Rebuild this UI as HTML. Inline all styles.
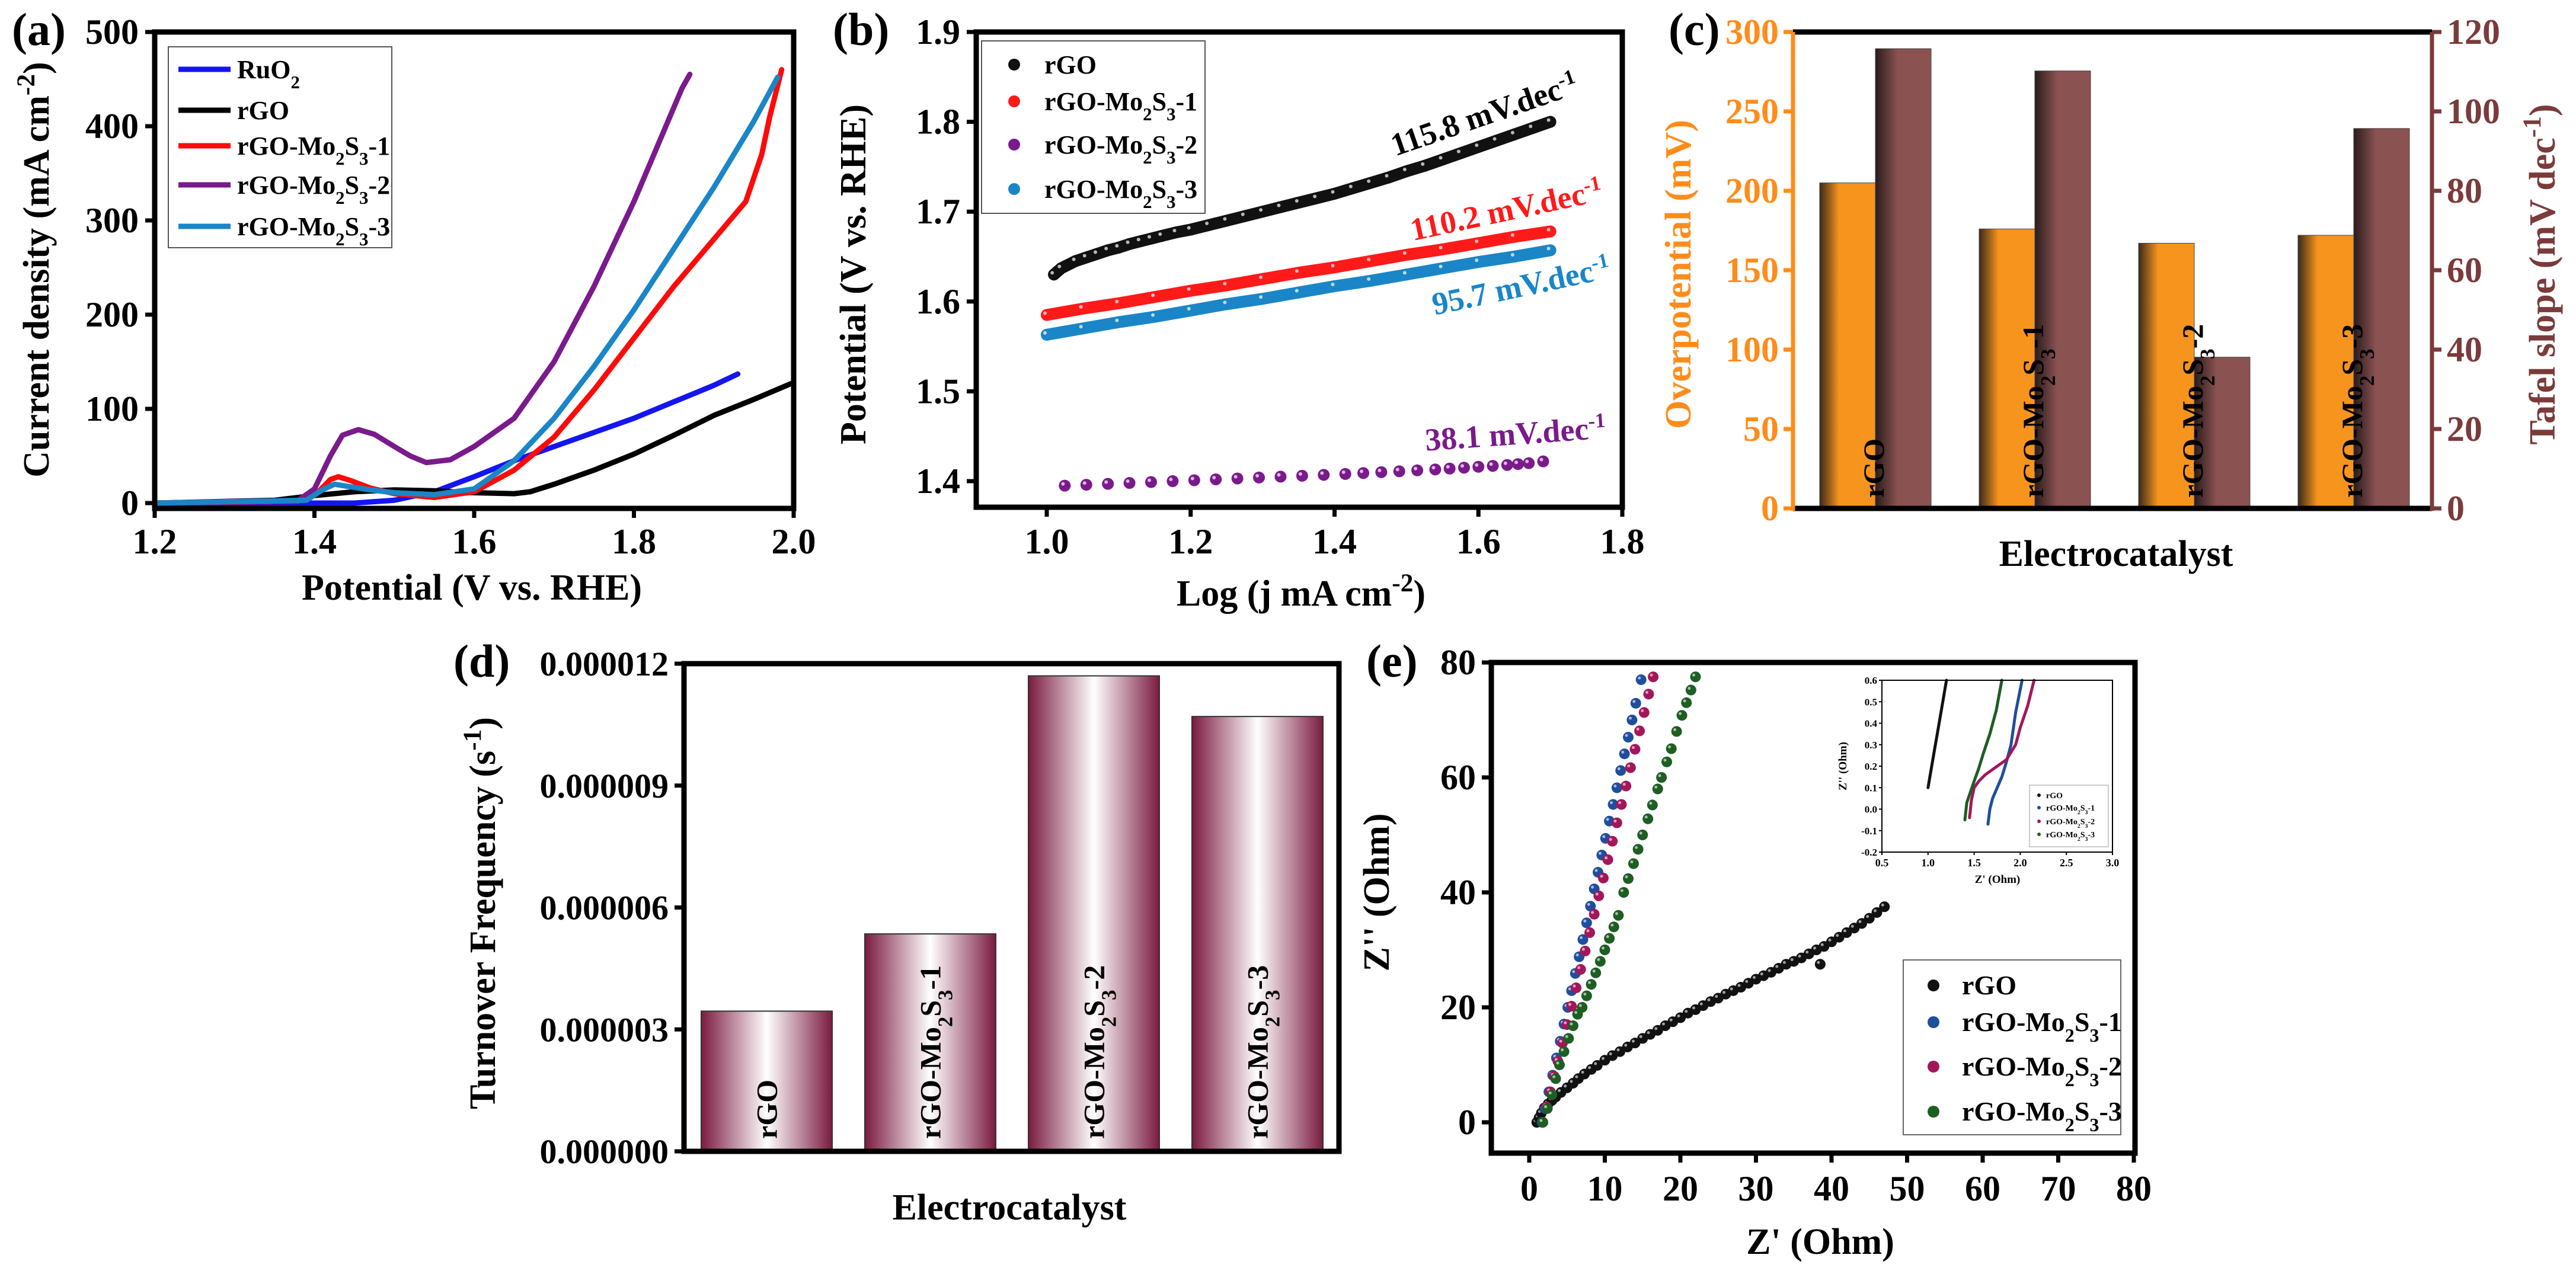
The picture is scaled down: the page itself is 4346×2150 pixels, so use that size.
<!DOCTYPE html>
<html><head><meta charset="utf-8"><style>
html,body{margin:0;padding:0;background:#fff;}
svg{display:block;font-family:"Liberation Serif",serif;font-weight:bold;}
</style></head><body>
<svg id="fig" xmlns="http://www.w3.org/2000/svg" width="4346" height="2150" viewBox="0 0 4346 2150">
<defs>
<linearGradient id="gOr" x1="0" x2="1" y1="0" y2="0"><stop offset="0" stop-color="#3a2a1c"/><stop offset="0.35" stop-color="#f7941d"/><stop offset="1" stop-color="#f7941d"/></linearGradient>
<linearGradient id="gBr" x1="0" x2="1" y1="0" y2="0"><stop offset="0" stop-color="#2a1c1c"/><stop offset="0.4" stop-color="#8b5252"/><stop offset="1" stop-color="#8b5252"/></linearGradient>
<linearGradient id="gTof" x1="0" x2="1" y1="0" y2="0"><stop offset="0" stop-color="#7a1b40"/><stop offset="0.5" stop-color="#ffffff"/><stop offset="1" stop-color="#7a1b40"/></linearGradient>
</defs>
</svg>
<script>
// ---------- Panel (a) data ----------
const aRuX=[1.2,1.45,1.5,1.55,1.6,1.65,1.7,1.8,1.9,1.93];
const aRuY=[0,0,3,12,28,45,60,90,125,137];
const aRgoX=[1.2,1.35,1.4,1.45,1.5,1.55,1.6,1.65,1.67,1.7,1.75,1.8,1.85,1.9,1.95,2.0];
const aRgoY=[0,3,8,12,14,13,11,10,12,20,35,52,72,93,110,128];
const aM1X=[1.2,1.38,1.405,1.42,1.43,1.445,1.47,1.5,1.55,1.6,1.65,1.7,1.75,1.8,1.85,1.9,1.94,1.96,1.97,1.985];
const aM1Y=[0,2,12,25,28,24,16,10,6,12,35,70,120,175,230,280,320,370,410,460];
const aM2X=[1.2,1.38,1.4,1.42,1.435,1.455,1.475,1.5,1.52,1.54,1.57,1.6,1.65,1.7,1.75,1.8,1.84,1.86,1.87];
const aM2Y=[0,3,15,50,72,78,73,60,50,43,46,60,90,150,230,320,400,440,455];
const aM3X=[1.2,1.39,1.41,1.425,1.44,1.47,1.5,1.55,1.6,1.65,1.7,1.75,1.8,1.85,1.9,1.95,1.98];
const aM3Y=[0,3,14,20,18,14,11,9,15,45,90,145,205,270,335,405,452];
const aXTicks=["1.2","1.4","1.6","1.8","2.0"];
const aYTicks=["0","100","200","300","400","500"];
// ---------- Panel (b) data ----------
const bRgoX=[1.01,1.02,1.04,1.055,1.07,1.085,1.1,1.115,1.13,1.145,1.16,1.18,1.2,1.225,1.25,1.275,1.3,1.325,1.35,1.375,1.4,1.425,1.45,1.475,1.5,1.525,1.55,1.575,1.6,1.625,1.65,1.675,1.7];
const bRgoY=[1.630,1.637,1.645,1.649,1.653,1.657,1.660,1.664,1.667,1.670,1.673,1.677,1.680,1.685,1.690,1.695,1.700,1.705,1.710,1.715,1.720,1.726,1.732,1.738,1.745,1.751,1.758,1.765,1.772,1.779,1.786,1.793,1.800];
const bM1X=[1.0,1.05,1.1,1.15,1.2,1.25,1.3,1.35,1.4,1.45,1.5,1.55,1.6,1.65,1.7];
const bM1Y=[1.585,1.592,1.598,1.605,1.612,1.618,1.625,1.632,1.638,1.645,1.652,1.658,1.665,1.672,1.678];
const bM3X=[1.0,1.05,1.1,1.15,1.2,1.25,1.3,1.35,1.4,1.45,1.5,1.55,1.6,1.65,1.7];
const bM3Y=[1.563,1.570,1.577,1.583,1.590,1.597,1.603,1.610,1.617,1.623,1.630,1.637,1.644,1.650,1.657];
const bM2X=[1.025,1.055,1.085,1.115,1.145,1.175,1.205,1.235,1.265,1.295,1.325,1.355,1.385,1.415,1.44,1.465,1.49,1.515,1.54,1.56,1.58,1.6,1.62,1.64,1.655,1.67,1.69];
const bM2Y=[1.395,1.396,1.397,1.398,1.399,1.400,1.401,1.402,1.403,1.404,1.405,1.406,1.407,1.408,1.409,1.410,1.411,1.412,1.413,1.414,1.415,1.416,1.417,1.418,1.419,1.420,1.422];
const bXTicks=["1.0","1.2","1.4","1.6","1.8"];
const bYTicks=["1.4","1.5","1.6","1.7","1.8","1.9"];
// ---------- Panel (c) data ----------
const cCats=["rGO","rGO-Mo2S3-1","rGO-Mo2S3-2","rGO-Mo2S3-3"];
const cOver=[205,176,167,172];
const cTafel=[115.8,110.2,38.1,95.7];
const cLTicks=["0","50","100","150","200","250","300"];
const cRTicks=["0","20","40","60","80","100","120"];
// ---------- Panel (d) data ----------
const dTof=[3.45e-6,5.35e-6,11.7e-6,10.7e-6];
const dTicks=["0.000000","0.000003","0.000006","0.000009","0.000012"];
// ---------- Panel (e) data ----------
const eRgoX=[1.0,1.3,1.6,2.0,2.5,3.0,3.5,4.2,5.0,5.8,6.5,7.3,8.2,9.0,10.0,11.0,12.0,13.0,14.0,15.0,16.0,17.0,18.0,19.0,20.0,21.0,22.0,23.0,24.0,25.0,26.0,27.0,28.0,29.0,30.0,31.0,32.0,33.0,34.0,35.0,36.0,37.0,38.0,38.5,39.0,40.0,41.0,42.0,43.0,44.0,45.0,46.0,47.0];
const eRgoY=[0,0.8,1.6,2.5,3.2,3.8,4.4,5.2,6.0,6.8,7.6,8.4,9.2,9.9,10.8,11.6,12.3,13.1,13.8,14.6,15.3,16.0,16.8,17.5,18.2,19.0,19.6,20.3,21.0,21.6,22.3,22.9,23.5,24.2,24.9,25.5,26.1,26.8,27.5,28.0,28.6,29.3,30.0,27.5,30.6,31.4,32.2,33.0,33.8,34.6,35.5,36.5,37.5];
const eM1X=[1.7,2.1,2.6,3.1,3.6,4.1,4.6,5.1,5.6,6.1,6.6,7.1,7.6,8.1,8.6,9.1,9.6,10.1,10.6,11.1,11.6,12.1,12.6,13.1,13.6,14.1,14.8];
const eM1Y=[0,2.4,5.3,8.2,11.2,14.1,17.1,20,22.9,25.9,28.8,31.8,34.7,37.6,40.6,43.5,46.5,49.4,52.4,55.3,58.2,61.2,64.1,67,70,72.9,77];
const eM2X=[1.8,2.3,2.8,3.3,3.8,4.4,5.0,5.6,6.2,6.8,7.4,8.0,8.6,9.2,9.8,10.4,11.0,11.6,12.2,12.8,13.4,14.0,14.6,15.2,15.8,16.4];
const eM2Y=[0,2.7,5.3,8,10.6,13.8,17,20.2,23.4,26.6,29.8,33,36.2,39.4,42.5,45.7,48.9,52.1,55.3,58.5,61.7,64.9,68.1,71.3,74.5,77.5];
const eM3X=[1.8,2.4,3.0,3.5,4.0,4.6,5.2,5.8,6.4,7.0,7.6,8.2,8.8,9.4,10.0,10.6,11.2,11.8,12.5,13.1,13.8,14.4,15.0,15.7,16.3,17.0,17.5,18.2,18.8,19.5,20.2,20.8,21.4,22.0];
const eM3Y=[0,2.4,4.8,7.6,10,12.3,14.6,16.8,18.8,20,22,24,26,28,30,32,34,36,40,42.4,45,47.5,50,52.8,55.2,58,60,62.7,65,68,70.8,73,75.2,77.5];
const eXTicks=["0","10","20","30","40","50","60","70","80"];
const eYTicks=["0","20","40","60","80"];
const iRgoX=[1.0,1.02,1.04,1.06,1.08,1.1,1.12,1.14,1.16,1.18,1.2];
const iRgoY=[0.1,0.15,0.2,0.25,0.3,0.35,0.4,0.45,0.5,0.55,0.6];
const iM1X=[1.65,1.67,1.7,1.75,1.8,1.85,1.9,1.95,2.02];
const iM1Y=[-0.07,0.0,0.05,0.1,0.15,0.22,0.3,0.45,0.6];
const iM2X=[1.45,1.47,1.5,1.55,1.62,1.75,1.85,1.95,2.0,2.08,2.15];
const iM2Y=[-0.04,0.04,0.1,0.13,0.16,0.2,0.23,0.3,0.38,0.48,0.6];
const iM3X=[1.4,1.42,1.46,1.5,1.55,1.6,1.67,1.74,1.8];
const iM3Y=[-0.05,0.03,0.08,0.13,0.19,0.26,0.35,0.46,0.6];
const iXTicks=["0.5","1.0","1.5","2.0","2.5","3.0"];
const iYTicks=["-0.2","-0.1","0.0","0.1","0.2","0.3","0.4","0.5","0.6"];

const NS="http://www.w3.org/2000/svg";
const svg=document.getElementById('fig');
function mk(tag,attrs,parent){const e=document.createElementNS(NS,tag);for(const k in attrs)e.setAttribute(k,attrs[k]);(parent||svg).appendChild(e);return e;}
function lin(d0,d1,r0,r1){return v=>r0+(v-d0)*(r1-r0)/(d1-d0);}
function txt(s,x,y,size,opt,parent){opt=opt||{};const t=mk('text',{x:x,y:y,'font-size':size,'text-anchor':opt.anchor||'middle',fill:opt.fill||'#000'},parent);if(opt.rot!==undefined)t.setAttribute('transform','rotate('+opt.rot+' '+x+' '+y+')');t.innerHTML=s;return t;}
function chem(n){return n.replace('Mo2S3','Mo<tspan baseline-shift="sub" font-size="70%">2</tspan>S<tspan baseline-shift="sub" font-size="70%">3</tspan>');}
function path(xs,ys,X,Y){return xs.map((v,i)=>(i?'L':'M')+X(v).toFixed(1)+' '+Y(ys[i]).toFixed(1)).join(' ');}

// ================= Panel (a) =================
(function(){
const g=mk('g',{});


const X=lin(1.2,2.0,261,1339),Y=lin(0,500,849,54);
const series=[[aRuX,aRuY,'#1515f0','RuO2'],[aRgoX,aRgoY,'#000','rGO'],[aM1X,aM1Y,'#ff0a0a','rGO-Mo2S3-1'],[aM2X,aM2Y,'#7b1a8c','rGO-Mo2S3-2'],[aM3X,aM3Y,'#1a86c7','rGO-Mo2S3-3']];
series.forEach(s=>{const p=mk('path',{d:path(s[0],s[1],X,Y),fill:'none',stroke:s[2],'stroke-width':9,'stroke-linejoin':'round','stroke-linecap':'round'},g);

});
mk('rect',{x:261,y:54,width:1078,height:804,fill:'none',stroke:'#000','stroke-width':9},g);
aXTicks.forEach(t=>{const x=X(+t);mk('line',{x1:x,y1:858,x2:x,y2:874,stroke:'#000','stroke-width':7},g);txt(t,x,934,60,{},g);});
aYTicks.forEach(t=>{const y=Y(+t);mk('line',{x1:245,y1:y,x2:261,y2:y,stroke:'#000','stroke-width':7},g);txt(t,234,y+20,60,{anchor:'end'},g);});
const xl=txt('Potential (V vs. RHE)',796,1012,62,{},g);
const yl=txt('Current density (mA cm<tspan baseline-shift="super" font-size="70%">-2</tspan>)',82,455,62,{rot:-90},g);
txt('(a)',20,76,78,{anchor:'start'},g);
const lg=mk('g',{},g);
mk('rect',{x:284,y:79,width:377,height:339,fill:'#fff',stroke:'#555','stroke-width':2},lg);
const ly=[117,186,246,312,382];
series.forEach((s,i)=>{mk('line',{x1:301,y1:ly[i],x2:389,y2:ly[i],stroke:s[2],'stroke-width':9},lg);txt(chem(s[3]).replace('RuO2','RuO<tspan baseline-shift="sub" font-size="70%">2</tspan>'),400,ly[i]+15,44,{anchor:'start'},lg);});
})();

// ================= Panel (b) =================
(function(){
const g=mk('g',{});


const X=lin(1.0,1.8,1766,2737),Y=lin(1.4,1.9,812,54);
const series=[[bRgoX,bRgoY,'#111','rGO'],[bM1X,bM1Y,'#ff1a1a','rGO-Mo2S3-1'],[bM2X,bM2Y,'#7b1a8c','rGO-Mo2S3-2'],[bM3X,bM3Y,'#1a86c7','rGO-Mo2S3-3']];
series.forEach((s,si)=>{const sg=mk('g',{},g);


if(si!==2)mk('path',{d:path(s[0],s[1],X,Y),fill:'none',stroke:s[2],'stroke-width':20,'stroke-linecap':'round'},sg);
s[0].forEach((v,i)=>{mk('circle',{cx:X(v),cy:Y(s[1][i]),r:10,fill:s[2]},sg);mk('circle',{cx:X(v)-3,cy:Y(s[1][i])-3,r:3,fill:'#fff',opacity:0.7},sg);});});
mk('rect',{x:1647,y:54,width:1090,height:802,fill:'none',stroke:'#000','stroke-width':9},g);
bXTicks.forEach(t=>{const x=X(+t);mk('line',{x1:x,y1:856,x2:x,y2:872,stroke:'#000','stroke-width':7},g);txt(t,x,934,60,{},g);});
bYTicks.forEach(t=>{const y=Y(+t);mk('line',{x1:1631,y1:y,x2:1647,y2:y,stroke:'#000','stroke-width':7},g);txt(t,1620,y+20,60,{anchor:'end'},g);});
txt('Log (j mA cm<tspan baseline-shift="super" font-size="70%">-2</tspan>)',2195,1022,62,{},g);
txt('Potential (V vs. RHE)',1460,463,62,{rot:-90},g);
txt('(b)',1405,76,78,{anchor:'start'},g);
const sup='<tspan baseline-shift="super" font-size="65%">-1</tspan>';
txt('115.8 mV.dec'+sup,2510,210,54,{rot:-19},g);
txt('110.2 mV.dec'+sup,2545,372,54,{rot:-12,fill:'#ff1a1a'},g);
txt('95.7 mV.dec'+sup,2570,500,54,{rot:-12,fill:'#1a86c7'},g);
txt('38.1 mV.dec'+sup,2558,750,54,{rot:-4,fill:'#7b1a8c'},g);
const lg=mk('g',{},g);
mk('rect',{x:1656,y:69,width:377,height:291,fill:'#fff',stroke:'#555','stroke-width':2},lg);
const ly=[109,171,244,319];
series.forEach((s,i)=>{mk('circle',{cx:1711,cy:ly[i],r:10,fill:s[2]},lg);txt(chem(s[3]),1762,ly[i]+15,44,{anchor:'start'},lg);});
})();

// ================= Panel (c) =================
(function(){
const g=mk('g',{});


const YL=lin(0,300,858,54),YR=lin(0,120,858,54);
const gx0=3070,gStep=269,bw=94;
cCats.forEach((c,i)=>{const x=gx0+i*gStep;
const b1=mk('rect',{x:x,y:YL(cOver[i]),width:bw,height:858-YL(cOver[i]),fill:'url(#gOr)',stroke:'#444','stroke-width':1},g);


const b2=mk('rect',{x:x+bw,y:YR(cTafel[i]),width:bw,height:858-YR(cTafel[i]),fill:'url(#gBr)',stroke:'#444','stroke-width':1},g);


txt(chem(c),x+bw+14,840,50,{anchor:'start',rot:-90},g);});
mk('line',{x1:3025,y1:54,x2:4103,y2:54,stroke:'#000','stroke-width':9},g);
mk('line',{x1:3025,y1:858,x2:4103,y2:858,stroke:'#000','stroke-width':9},g);
mk('line',{x1:3025,y1:54,x2:3025,y2:862,stroke:'#ff8c1a','stroke-width':7},g);
mk('line',{x1:4103,y1:54,x2:4103,y2:862,stroke:'#7b3b3b','stroke-width':7},g);
cLTicks.forEach(t=>{const y=YL(+t);mk('line',{x1:3009,y1:y,x2:3025,y2:y,stroke:'#ff8c1a','stroke-width':7},g);txt(t,3001,y+20,60,{anchor:'end',fill:'#ff8c1a'},g);});
cRTicks.forEach(t=>{const y=YR(+t);mk('line',{x1:4103,y1:y,x2:4119,y2:y,stroke:'#7b3b3b','stroke-width':7},g);txt(t,4128,y+20,60,{anchor:'start',fill:'#7b3b3b'},g);});
txt('Electrocatalyst',3570,955,62,{},g);
txt('Overpotential (mV)',2852,463,62,{rot:-90,fill:'#ff8c1a'},g);
txt('Tafel slope (mV dec<tspan baseline-shift="super" font-size="70%">-1</tspan>)',4310,463,62,{rot:-90,fill:'#7b3b3b'},g);
txt('(c)',2815,76,78,{anchor:'start'},g);
})();

// ================= Panel (d) =================
(function(){
const g=mk('g',{});


const Y=lin(0,12e-6,1943,1120);
const x0=1183,step=276,bw=221;
dTof.forEach((v,i)=>{const x=x0+i*step;
const b=mk('rect',{x:x,y:Y(v),width:bw,height:1943-Y(v),fill:'url(#gTof)',stroke:'#333','stroke-width':2},g);


txt(chem(cCats[i]),x+bw/2+17,1922,50,{anchor:'start',rot:-90},g);});
mk('rect',{x:1154,y:1120,width:1105,height:823,fill:'none',stroke:'#000','stroke-width':9},g);
dTicks.forEach(t=>{const y=Y(+t);mk('line',{x1:1138,y1:y,x2:1154,y2:y,stroke:'#000','stroke-width':7},g);txt(t,1128,y+20,58,{anchor:'end'},g);});
txt('Electrocatalyst',1703,2058,62,{},g);
txt('Turnover Frequency (s<tspan baseline-shift="super" font-size="70%">-1</tspan>)',835,1541,62,{rot:-90},g);
txt('(d)',765,1142,78,{anchor:'start'},g);
})();

// ================= Panel (e) =================
(function(){
const g=mk('g',{});


const X=lin(0,80,2580,3600),Y=lin(0,80,1894,1118);
const series=[[eRgoX,eRgoY,'#111','rGO'],[eM1X,eM1Y,'#1f4e9c','rGO-Mo2S3-1'],[eM2X,eM2Y,'#a3175a','rGO-Mo2S3-2'],[eM3X,eM3Y,'#1d5e22','rGO-Mo2S3-3']];
series.forEach(s=>{const sg=mk('g',{},g);


s[0].forEach((v,i)=>{mk('circle',{cx:X(v),cy:Y(s[1][i]),r:9,fill:s[2]},sg);mk('circle',{cx:X(v)-3,cy:Y(s[1][i])-3,r:2.5,fill:'#fff',opacity:0.6},sg);});});
mk('rect',{x:2516,y:1118,width:1086,height:828,fill:'none',stroke:'#000','stroke-width':9},g);
eXTicks.forEach(t=>{const x=X(+t);mk('line',{x1:x,y1:1946,x2:x,y2:1962,stroke:'#000','stroke-width':7},g);txt(t,x,2026,60,{},g);});
eYTicks.forEach(t=>{const y=Y(+t);mk('line',{x1:2500,y1:y,x2:2516,y2:y,stroke:'#000','stroke-width':7},g);txt(t,2490,y+20,60,{anchor:'end'},g);});
txt("Z' (Ohm)",3071,2116,62,{},g);
txt("Z'' (Ohm)",2343,1506,62,{rot:-90},g);
txt('(e)',2305,1142,78,{anchor:'start'},g);
const lg=mk('g',{},g);
mk('rect',{x:3211,y:1620,width:367,height:295,fill:'#fff',stroke:'#666','stroke-width':2},lg);
const ly=[1663,1725,1800,1876];
series.forEach((s,i)=>{mk('circle',{cx:3262,cy:ly[i],r:10,fill:s[2]},lg);txt(chem(s[3]),3310,ly[i]+15,46,{anchor:'start'},lg);});
// inset
const ig=mk('g',{},g);
const IX=lin(0.5,3.0,3175,3564),IY=lin(-0.2,0.6,1438,1148);
mk('rect',{x:3175,y:1148,width:389,height:290,fill:'#fff',stroke:'none'},ig);
[[iRgoX,iRgoY,'#111'],[iM1X,iM1Y,'#1f4e9c'],[iM2X,iM2Y,'#a3175a'],[iM3X,iM3Y,'#1d5e22']].forEach(s=>{mk('path',{d:path(s[0],s[1],IX,IY),fill:'none',stroke:s[2],'stroke-width':5,'stroke-linecap':'round'},ig);});
mk('rect',{x:3175,y:1148,width:389,height:290,fill:'none',stroke:'#000','stroke-width':2},ig);
iXTicks.forEach(t=>{const x=IX(+t);mk('line',{x1:x,y1:1438,x2:x,y2:1443,stroke:'#000','stroke-width':2},ig);txt(t,x,1462,18,{},ig);});
iYTicks.forEach(t=>{const y=IY(+t);mk('line',{x1:3170,y1:y,x2:3175,y2:y,stroke:'#000','stroke-width':2},ig);txt(t,3167,y+6,17,{anchor:'end'},ig);});
txt("Z' (Ohm)",3370,1490,19,{},ig);
txt("Z'' (Ohm)",3115,1293,19,{rot:-90},ig);
mk('rect',{x:3424,y:1325,width:133,height:104,fill:'#fff',stroke:'#999','stroke-width':1},ig);
const il=[1342,1363,1386,1408];
['rGO','rGO-Mo2S3-1','rGO-Mo2S3-2','rGO-Mo2S3-3'].forEach((n,i)=>{mk('circle',{cx:3440,cy:il[i],r:3,fill:series[i][2]},ig);txt(chem(n),3452,il[i]+5,14,{anchor:'start'},ig);});
})();
</script>
</body></html>
